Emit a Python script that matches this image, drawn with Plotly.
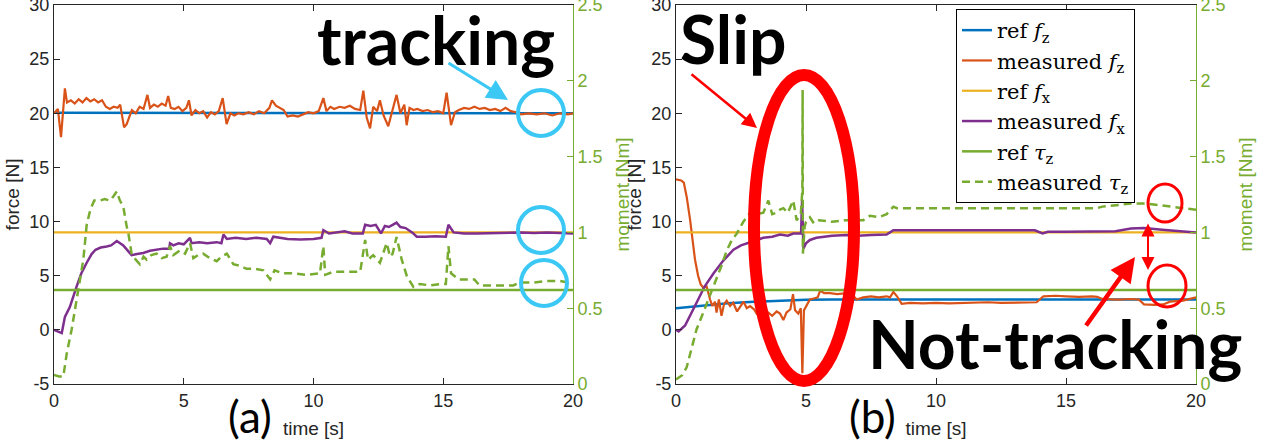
import plotly.graph_objects as go

# ---------------- data ----------------
x_ticks = [0, 5, 10, 15, 20]
x_ticktext = ["0", "5", "10", "15", "20"]
force_ticks = [-5, 0, 5, 10, 15, 20, 25, 30]
force_ticktext = ["-5", "0", "5", "10", "15", "20", "25", "30"]
moment_ticks = [0, 0.5, 1, 1.5, 2, 2.5]
moment_ticktext = ["0", "0.5", "1", "1.5", "2", "2.5"]

t_ref = [0, 20]
ref_fz_a = [20.05, 20.0]
ref_fx = [9.0, 9.0]
ref_tau = [0.62, 0.62]

t_fz_a = [0, 0.15, 0.27, 0.35, 0.42, 0.5, 0.65, 0.8, 0.95, 1.1, 1.25, 1.4, 1.55, 1.7, 1.85, 2.0, 2.15,
          2.3, 2.45, 2.55, 2.7, 2.8, 2.9, 3.0, 3.15, 3.3, 3.45, 3.6, 3.7, 3.85, 4.0, 4.15, 4.3, 4.4, 4.5,
          4.65, 4.8, 4.95, 5.1, 5.2, 5.3, 5.45, 5.6, 5.75, 5.9, 6.05, 6.2, 6.35, 6.5, 6.65, 6.8, 6.95, 7.1,
          7.3, 7.5, 7.7, 7.9, 8.1, 8.3, 8.4, 8.55, 8.7, 8.85, 9.0, 9.2, 9.4, 9.6, 9.8, 10.0, 10.2, 10.38,
          10.5, 10.65, 10.8, 11.0, 11.2, 11.4, 11.6, 11.8, 11.92, 12.05, 12.18, 12.3, 12.45, 12.56, 12.7,
          12.88, 13.05, 13.2, 13.35, 13.5, 13.59, 13.7, 13.85, 14.0, 14.2, 14.4, 14.6, 14.8, 15.0, 15.13,
          15.3, 15.45, 15.6, 15.8, 16.0, 16.2, 16.4, 16.6, 16.8, 17.0, 17.2, 17.4, 17.6, 17.8, 18.0, 18.3,
          18.6, 18.9, 19.2, 19.5, 19.8, 20.0]
meas_fz_a = [20.0, 20.4, 17.8, 20.6, 22.3, 21.0, 21.2, 20.9, 21.3, 21.0, 21.4, 21.1, 21.3, 21.0, 21.2,
             20.6, 20.4, 20.6, 20.5, 20.8, 18.7, 19.0, 19.6, 20.3, 20.0, 20.6, 20.4, 21.7, 20.5, 20.8,
             20.6, 20.9, 20.7, 21.6, 20.5, 20.4, 20.6, 20.2, 20.5, 21.2, 19.8, 20.3, 20.0, 20.2, 19.6,
             20.1, 19.9, 20.2, 21.4, 19.0, 20.0, 19.8, 20.0, 19.9, 20.1, 19.9, 20.2, 20.0, 20.5, 21.2,
             20.7, 20.5, 20.3, 19.7, 19.8, 19.7, 19.9, 20.1, 20.0, 20.2, 21.4, 20.2, 20.6, 20.4, 20.6,
             20.5, 20.7, 20.4, 20.3, 22.1, 19.6, 18.6, 20.6, 20.2, 21.2, 19.8, 18.8, 20.4, 21.7, 20.0,
             20.8, 18.9, 20.5, 20.3, 20.4, 20.2, 20.3, 20.1, 20.2, 20.0, 21.9, 18.9, 20.1, 20.3, 20.5,
             20.4, 20.6, 20.4, 20.5, 20.3, 20.4, 20.2, 20.5, 20.2, 20.1, 19.9, 20.0, 19.9, 20.0, 19.8,
             20.0, 19.9, 20.0]

t_fx_a = [0, 0.3, 0.42, 0.61, 0.87, 1.05, 1.26, 1.45, 1.6, 1.8, 2.03, 2.2, 2.42, 2.55, 2.67, 2.85, 2.99,
          3.2, 3.44, 3.7, 3.95, 4.2, 4.44, 4.47, 4.6, 4.8, 5.0, 5.24, 5.3, 5.6, 5.9, 6.27, 6.45, 6.53,
          6.66, 7.0, 7.4, 7.8, 8.2, 8.33, 8.45, 8.7, 9.0, 9.5, 10.0, 10.31, 10.38, 10.6, 10.9, 11.2,
          11.5, 11.9, 11.99, 12.2, 12.4, 12.6, 12.75, 12.9, 13.05, 13.2, 13.35, 13.55, 13.8, 13.98,
          14.3, 14.7, 15.1, 15.2, 15.4, 15.8, 16.3, 16.9, 17.5, 18.0, 18.5, 19.0, 19.5, 20.0]
meas_fx_a = [0.0, -0.3, 1.2, 2.1, 4.0, 5.2, 6.2, 7.0, 7.4, 7.6, 7.7, 7.8, 8.2, 8.0, 7.8, 7.3, 6.9, 7.0,
             7.1, 7.3, 7.4, 7.5, 7.5, 8.0, 7.8, 8.0, 7.9, 8.5, 8.0, 8.1, 8.0, 8.1, 8.0, 8.8, 8.4, 8.5,
             8.4, 8.5, 8.4, 8.0, 8.6, 8.5, 8.4, 8.35, 8.4, 8.5, 9.2, 8.9, 9.0, 9.1, 8.9, 8.9, 9.7, 9.6,
             9.7, 8.9, 9.6, 9.5, 9.7, 9.9, 9.5, 9.4, 9.0, 8.6, 8.6, 8.65, 8.6, 9.7, 9.0, 8.9, 8.9, 8.95,
             9.0, 9.0, 8.95, 9.0, 8.95, 8.9]

t_tau_a = [0, 0.2, 0.36, 0.49, 0.68, 0.87, 1.0, 1.13, 1.26, 1.4, 1.55, 1.77, 1.95, 2.16, 2.3, 2.42, 2.54,
           2.67, 2.8, 2.86, 2.99, 3.15, 3.31, 3.45, 3.57, 3.75, 3.95, 4.15, 4.34, 4.47, 4.6, 4.85, 5.05,
           5.24, 5.37, 5.55, 5.75, 6.0, 6.27, 6.45, 6.66, 6.91, 7.15, 7.42, 7.75, 8.07, 8.33, 8.5, 8.8,
           9.2, 9.7, 10.25, 10.38, 10.45, 10.76, 11.2, 11.8, 11.99, 12.1, 12.3, 12.56, 12.82, 12.95,
           13.05, 13.2, 13.4, 13.6, 13.85, 14.1, 14.5, 14.9, 15.1, 15.2, 15.3, 15.6, 16.2, 16.4, 17.0,
           17.7, 17.96, 18.5, 19.0, 19.5, 19.8, 20.0]
meas_tau_a = [0.06, 0.05, 0.05, 0.2, 0.36, 0.55, 0.7, 0.82, 1.05, 1.15, 1.21, 1.21, 1.22, 1.21, 1.24,
              1.27, 1.21, 1.17, 1.04, 1.0, 0.86, 0.82, 0.79, 0.84, 0.82, 0.85, 0.86, 0.83, 0.84, 0.91,
              0.85, 0.88, 0.86, 0.93, 0.83, 0.85, 0.86, 0.83, 0.81, 0.84, 0.86, 0.79, 0.78, 0.76, 0.76,
              0.75, 0.69, 0.75, 0.73, 0.73, 0.72, 0.73, 0.91, 0.72, 0.74, 0.74, 0.74, 0.95, 0.82, 0.85,
              0.80, 0.93, 0.84, 0.86, 0.97, 0.82, 0.71, 0.64, 0.66, 0.65, 0.66, 0.66, 0.91, 0.73, 0.69,
              0.69, 0.65, 0.65, 0.65, 0.67, 0.67, 0.68, 0.68, 0.67, 0.66]

t_ref_fz_b = [0, 1, 2, 3, 4, 5, 6, 8, 20]
ref_fz_b = [2.0, 2.25, 2.45, 2.6, 2.7, 2.78, 2.8, 2.8, 2.8]

t_fz_b = [0, 0.2, 0.3, 0.41, 0.54, 0.6, 0.73, 0.85, 0.95, 1.05, 1.18, 1.31, 1.4, 1.5, 1.56, 1.65, 1.75,
          1.85, 1.95, 2.08, 2.2, 2.35, 2.5, 2.6, 2.72, 2.85, 3.0, 3.1, 3.25, 3.4, 3.55, 3.7, 3.87, 4.0,
          4.13, 4.25, 4.4, 4.5, 4.58, 4.7, 4.8, 4.86, 4.92, 5.0, 5.15, 5.3, 5.45, 5.54, 5.7, 5.92, 6.2,
          6.56, 6.8, 6.95, 7.2, 7.5, 7.8, 8.1, 8.23, 8.36, 8.5, 8.68, 9.0, 9.5, 10.0, 10.5, 11.0, 11.5,
          12.0, 12.5, 13.0, 13.5, 13.87, 14.13, 14.6, 15.0, 15.5, 16.0, 16.2, 16.4, 17.0, 17.5, 17.8,
          18.0, 18.4, 18.74, 19.0, 19.5, 20.0]
meas_fz_b = [13.9, 13.8, 13.6, 12.3, 10.2, 8.9, 6.5, 5.0, 4.2, 3.9, 4.0, 2.8, 2.2, 2.6, 1.6, 2.8, 1.3,
             2.4, 2.7, 2.2, 2.5, 1.7, 2.3, 2.6, 2.0, 2.2, 1.9, 1.5, 1.8, 1.4, 1.6, 1.3, 1.7, 1.5, 0.9,
             1.6, 1.9, 3.3, 1.8, 1.5, 2.0, -4.0, 1.8, 2.2, 2.8, 2.9, 3.0, 3.6, 3.4, 3.4, 3.3, 3.4, 3.2,
             2.8, 3.0, 3.1, 3.0, 3.1, 3.0, 3.5, 3.1, 2.4, 2.5, 2.45, 2.5, 2.45, 2.5, 2.5, 2.55, 2.5, 2.5,
             2.55, 2.55, 3.1, 3.15, 3.1, 3.05, 3.1, 3.05, 2.85, 2.8, 2.85, 2.8, 2.35, 2.3, 2.35, 2.6,
             2.7, 3.0]

t_fx_b = [0, 0.1, 0.35, 0.55, 0.79, 1.1, 1.44, 1.82, 2.21, 2.5, 2.72, 3.0, 3.36, 3.7, 4.0, 4.3, 4.51,
          4.81, 4.85, 4.9, 5.0, 5.15, 5.4, 5.67, 6.0, 6.56, 7.0, 7.5, 8.1, 8.36, 9.0, 10.0, 11.0, 12.0,
          13.0, 13.8, 14.1, 14.3, 15.0, 16.0, 16.9, 17.5, 18.0, 18.7, 19.4, 20.0]
meas_fx_b = [0.0, -0.15, 0.4, 1.3, 2.5, 4.0, 5.2, 6.4, 7.4, 7.8, 8.0, 8.2, 8.5, 8.6, 8.8, 8.7, 8.9, 8.9,
             12.0, 7.5, 8.0, 8.3, 8.5, 8.6, 8.7, 8.75, 8.7, 8.75, 8.8, 9.2, 9.2, 9.2, 9.25, 9.2, 9.2,
             9.2, 8.9, 9.05, 9.05, 9.1, 9.1, 9.35, 9.4, 9.25, 9.1, 9.0]

t_tau_b = [0, 0.1, 0.25, 0.41, 0.6, 0.79, 1.0, 1.18, 1.4, 1.56, 1.75, 1.95, 2.15, 2.33, 2.59, 2.85, 3.1,
           3.36, 3.55, 3.7, 3.87, 4.0, 4.13, 4.3, 4.51, 4.64, 4.8, 4.86, 4.87, 4.88, 4.95, 5.0, 5.15,
           5.3, 5.5, 6.0, 6.5, 7.0, 7.2, 7.46, 7.8, 8.1, 8.36, 8.5, 9.0, 10.0, 11.0, 12.0, 13.0, 14.0,
           15.0, 16.2, 16.4, 17.0, 17.5, 18.1, 18.5, 19.0, 19.5, 20.0]
meas_tau_b = [0.03, 0.04, 0.06, 0.11, 0.24, 0.36, 0.45, 0.53, 0.62, 0.69, 0.78, 0.88, 0.95, 0.99, 1.07,
              1.13, 1.12, 1.13, 1.21, 1.12, 1.13, 1.15, 1.16, 1.13, 1.21, 1.08, 1.12, 1.28, 1.94, 0.86,
              1.04, 1.07, 1.10, 1.06, 1.08, 1.07, 1.08, 1.08, 1.08, 1.11, 1.10, 1.12, 1.17, 1.16, 1.16,
              1.16, 1.16, 1.16, 1.16, 1.16, 1.16, 1.16, 1.17, 1.18, 1.19, 1.19, 1.18, 1.17, 1.16, 1.15]

legend_names = ["ref <i>f</i><sub>z</sub>", "measured <i>f</i><sub>z</sub>",
                "ref <i>f</i><sub>x</sub>", "measured <i>f</i><sub>x</sub>",
                "ref <i>τ</i><sub>z</sub>", "measured <i>τ</i><sub>z</sub>"]

# ---------------- styling ----------------
BLUE, ORANGE, YELLOW, PURPLE, GREEN = "#0072BD", "#D95319", "#EDB120", "#7E2F8E", "#77AC30"
CYAN, RED = "#3CC8F5", "#FF0000"
W, H = 1261, 446
L, R, T, B = 54, 65, 5, 62
PW, PH = W - L - R, H - T - B


def px(x):
    return (x - L) / PW


def py(y):
    return (H - B - y) / PH


fig = go.Figure()


def add_panel(xa, ya_left, ya_right, data, show):
    (tr_fz, vr_fz), (tm_fz, vm_fz), (tm_fx, vm_fx), (tm_tau, vm_tau) = data
    fig.add_trace(go.Scatter(x=tr_fz, y=vr_fz, mode="lines", line=dict(color=BLUE, width=2.5),
                             name=legend_names[0], showlegend=show, xaxis=xa, yaxis=ya_left))
    fig.add_trace(go.Scatter(x=tm_fz, y=vm_fz, mode="lines", line=dict(color=ORANGE, width=2.2),
                             name=legend_names[1], showlegend=show, xaxis=xa, yaxis=ya_left))
    fig.add_trace(go.Scatter(x=t_ref, y=ref_fx, mode="lines", line=dict(color=YELLOW, width=2.2),
                             name=legend_names[2], showlegend=show, xaxis=xa, yaxis=ya_left))
    fig.add_trace(go.Scatter(x=tm_fx, y=vm_fx, mode="lines", line=dict(color=PURPLE, width=2.5),
                             name=legend_names[3], showlegend=show, xaxis=xa, yaxis=ya_left))
    fig.add_trace(go.Scatter(x=t_ref, y=ref_tau, mode="lines", line=dict(color=GREEN, width=2.5),
                             name=legend_names[4], showlegend=show, xaxis=xa, yaxis=ya_right))
    fig.add_trace(go.Scatter(x=tm_tau, y=vm_tau, mode="lines",
                             line=dict(color=GREEN, width=2.5, dash="8px,5px"),
                             name=legend_names[5], showlegend=show, xaxis=xa, yaxis=ya_right))


add_panel("x", "y", "y2", [(t_ref, ref_fz_a), (t_fz_a, meas_fz_a), (t_fx_a, meas_fx_a),
                           (t_tau_a, meas_tau_a)], False)
add_panel("x2", "y3", "y4", [(t_ref_fz_b, ref_fz_b), (t_fz_b, meas_fz_b), (t_fx_b, meas_fx_b),
                             (t_tau_b, meas_tau_b)], True)

tickfont = dict(family="Liberation Sans, Arial, sans-serif", size=18, color="#262626")
titlefont = dict(family="Liberation Sans, Arial, sans-serif", size=19, color="#262626")
gfont = dict(family="Liberation Sans, Arial, sans-serif", size=18, color=GREEN)
gtitle = dict(family="Liberation Sans, Arial, sans-serif", size=19, color=GREEN)

xcommon = dict(range=[0, 20], tickvals=x_ticks, ticktext=x_ticktext, ticks="inside", ticklen=6,
               showline=True, linecolor="#262626", linewidth=1, mirror="ticks", showgrid=False,
               zeroline=False, tickfont=tickfont, tickcolor="#262626", automargin=False,
               ticklabeloverflow="allow",
               title=dict(text="time [s]", font=titlefont, standoff=12))
ycommon = dict(range=[-5, 30], tickvals=force_ticks, ticktext=force_ticktext, ticks="inside", ticklen=6,
               showline=True, linecolor="#262626", linewidth=1, showgrid=False, zeroline=False,
               tickfont=tickfont, tickcolor="#262626", automargin=False, ticklabeloverflow="allow",
               title=dict(text="force [N]", font=titlefont, standoff=4))
rcommon = dict(range=[0, 2.5], tickvals=moment_ticks, ticktext=moment_ticktext, ticks="inside",
               ticklen=6, showline=True, linecolor=GREEN, linewidth=1, showgrid=False, zeroline=False,
               tickfont=gfont, tickcolor=GREEN, side="right", automargin=False,
               ticklabeloverflow="allow",
               title=dict(text="moment [Nm]", font=gtitle, standoff=14))

dom_a = [0, px(573)]
dom_b = [px(676), 1]

fig.update_layout(
    width=W, height=H, margin=dict(l=L, r=R, t=T, b=B, autoexpand=False),
    paper_bgcolor="white", plot_bgcolor="white",
    xaxis=dict(domain=dom_a, anchor="y", **xcommon),
    xaxis2=dict(domain=dom_b, anchor="y3", **xcommon),
    yaxis=dict(anchor="x", **ycommon),
    yaxis2=dict(anchor="x", overlaying="y", **rcommon),
    yaxis3=dict(anchor="x2", **ycommon),
    yaxis4=dict(anchor="x2", overlaying="y3", **rcommon),
    showlegend=True,
    legend=dict(x=px(956), y=py(9), xanchor="left", yanchor="top", bgcolor="white",
                bordercolor="black", borderwidth=1,
                font=dict(family="DejaVu Serif, Liberation Serif, serif", size=21, color="black"),
                itemwidth=30, tracegroupgap=0),
)

# ---------------- decorations ----------------
shapes = []


def ellipse(cx, cy, rx, ry, color, width):
    shapes.append(dict(type="circle", xref="paper", yref="paper",
                       x0=px(cx - rx), x1=px(cx + rx), y0=py(cy + ry), y1=py(cy - ry),
                       line=dict(color=color, width=width)))


ellipse(541, 113, 23, 23, CYAN, 4)
ellipse(541, 230, 23, 23, CYAN, 4)
ellipse(544, 283, 23, 23, CYAN, 4)
ellipse(804, 228, 50, 153, RED, 12)
ellipse(1165, 203, 17, 19, RED, 3)
ellipse(1167, 286, 19, 21, RED, 3)
fig.update_layout(shapes=shapes)

big = dict(family="Lato, Open Sans, sans-serif", size=66, color="black")
label_font = dict(family="Lato, Open Sans, sans-serif", size=44, color="black")
anns = [
    dict(text="<b>tracking</b>", x=px(436), y=py(40), font=big),
    dict(text="<b>Slip</b>", x=px(733), y=py(38), font=big),
    dict(text="<b>Not-tracking</b>", x=px(1055), y=py(343), font=big),
    dict(text="(a)", x=px(250), y=py(416), font=label_font),
    dict(text="(b)", x=px(872), y=py(416), font=label_font),
]
for a in anns:
    a.update(xref="paper", yref="paper", showarrow=False, xanchor="center", yanchor="middle")

arrows = [
    # head (x, y), tail offset, color, width, size, sides
    (508, 100, -61, -38, CYAN, 3, 1.4, "end"),
    (757, 128, -67, -55, RED, 2.5, 1.2, "end"),
    (1135, 257, -50, 70, RED, 4.5, 1.1, "end"),
    (1148, 270, 0, -48, RED, 2, 1.3, "end+start"),
]
for hx, hy, ax, ay, col, w, s, side in arrows:
    anns.append(dict(text="", x=px(hx), y=py(hy), xref="paper", yref="paper", showarrow=True,
                     ax=ax, ay=ay, arrowcolor=col, arrowwidth=w, arrowhead=2, arrowsize=s,
                     startarrowhead=2, startarrowsize=s, arrowside=side))
fig.update_layout(annotations=anns)

fig.write_html("out.html", config={"displayModeBar": False},
               post_script="document.body.style.margin='0';document.body.style.overflow='hidden';")
